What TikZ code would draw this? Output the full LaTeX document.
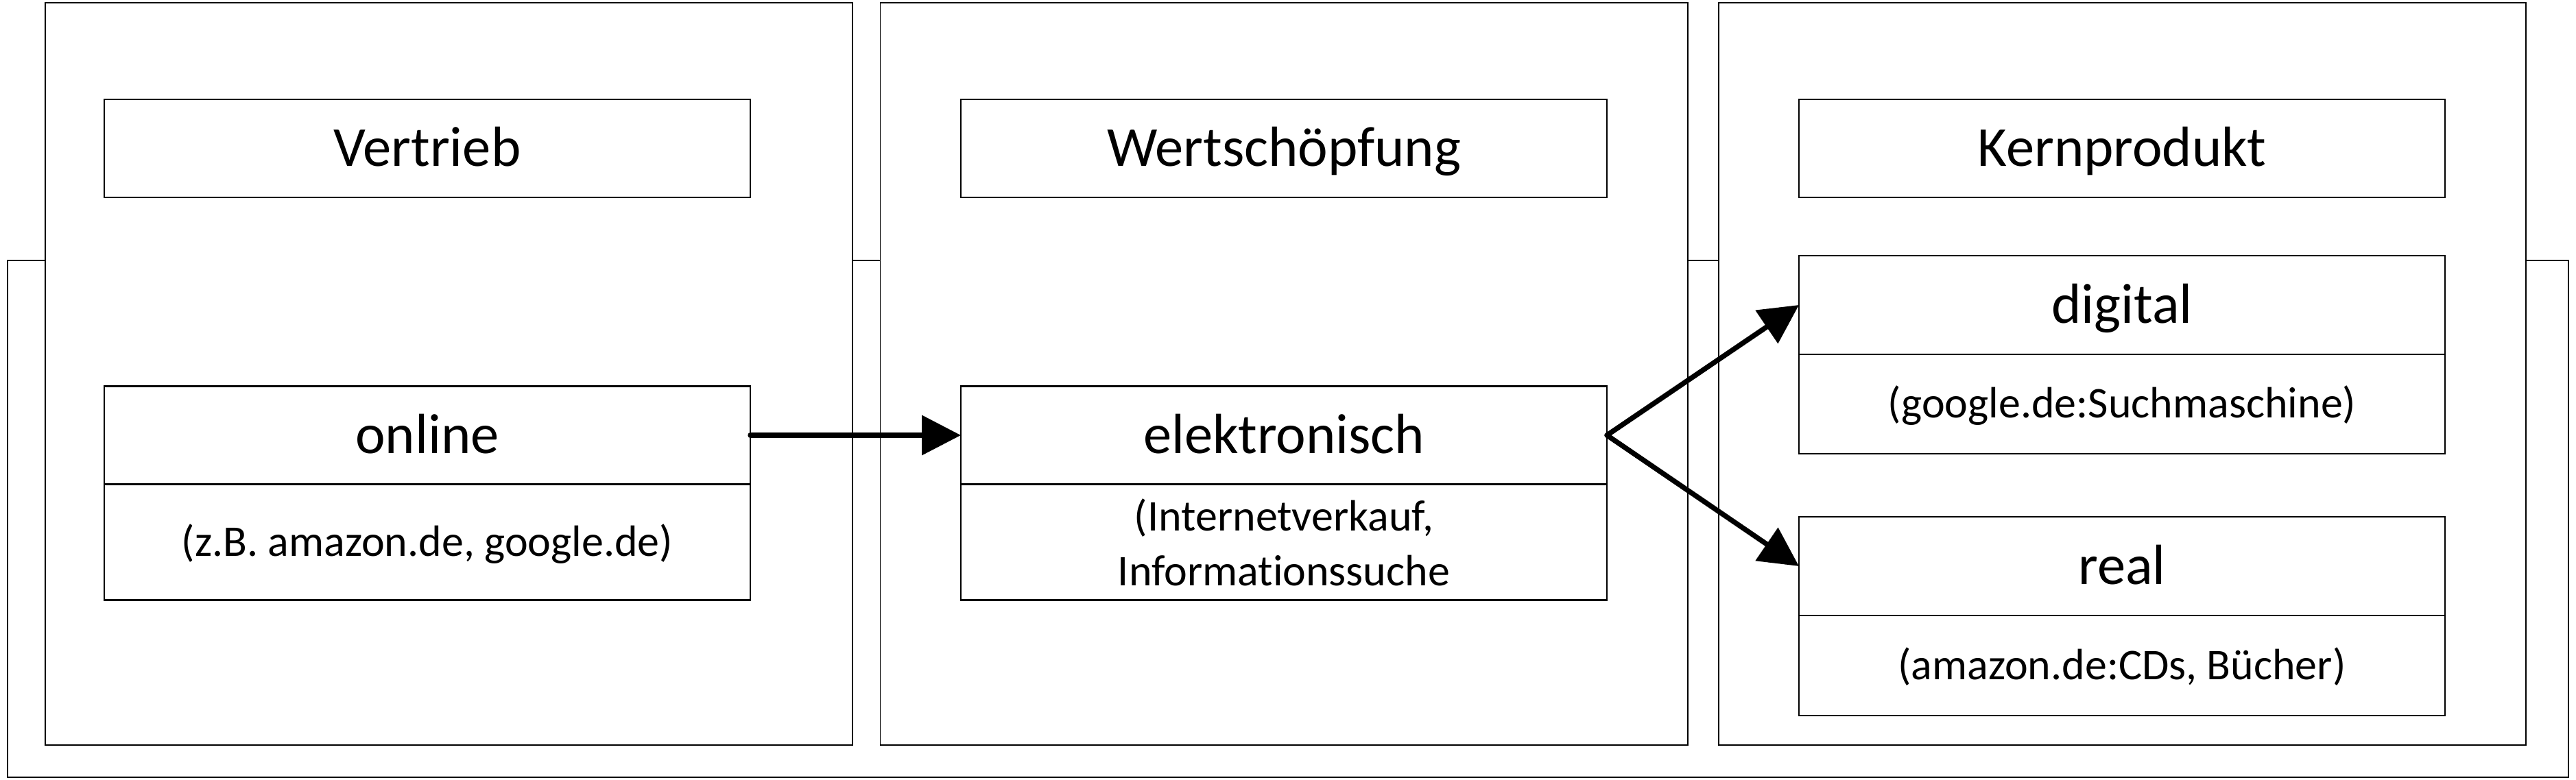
\documentclass[tikz,border=0pt]{standalone}
\usepackage{fontspec}
\setmainfont{Carlito}[Ligatures=NoCommon]
\usetikzlibrary{arrows.meta,positioning}
\begin{document}
\begin{tikzpicture}[every node/.style={inner sep=0pt,outer sep=0pt},
  col/.style={draw,line width=0.55pt,fill=white,minimum width=11.77cm,minimum height=10.83cm},
  cell/.style={draw,line width=0.6pt,fill=white,minimum width=9.42cm,minimum height=1.43cm,font=\fontsize{23.5}{28}\selectfont,text height=15pt,text depth=0pt},
  note/.style={draw,line width=0.6pt,fill=white,minimum width=9.42cm,font=\fontsize{18.2}{22.7}\selectfont,align=center},
  link/.style={line width=2.1pt,line cap=round,line join=round,-{Triangle[length=0.57cm,width=0.57cm]}}]
\useasboundingbox (0,0) rectangle (37.56,-11.38);
\node[draw,line width=0.55pt,minimum width=37.34cm,minimum height=7.54cm] (frame) at (18.78,-7.57) {};
\node[col] (vcol) at (6.545,-5.455) {};
\node[col] (wcol) at (18.72,-5.455) {};
\node[col] (kcol) at (30.94,-5.455) {};
\node[cell] (vtitle) at (6.23,-2.165) {Vertrieb};
\node[cell] (wtitle) at (18.72,-2.165) {Wertschöpfung};
\node[cell] (ktitle) at (30.94,-2.165) {Kernprodukt};
\node[cell] (online) at (6.23,-6.35) {online};
\node[note,minimum height=1.69cm,text height=11.6pt,text depth=0pt,below=0pt of online] (onlinenote) {(z.B. amazon.de, google.de)};
\node[cell] (elek) at (18.72,-6.35) {elektronisch};
\node[note,minimum height=1.69cm,below=0pt of elek] (eleknote) {(Internetverkauf,\\Informationssuche};
\node[cell,minimum height=1.44cm] (digital) at (30.94,-4.45) {digital};
\node[note,minimum height=1.45cm,text height=11.6pt,text depth=0pt,below=0pt of digital] (digitalnote) {(google.de:Suchmaschine)};
\node[cell,minimum height=1.44cm] (real) at (30.94,-8.26) {real};
\node[note,minimum height=1.46cm,text height=11.6pt,text depth=0pt,below=0pt of real] (realnote) {(amazon.de:CDs, Bücher)};
\draw[link] (online.east) -- (elek.west);
\draw[link] (elek.east) -- (digital.west);
\draw[link] (elek.east) -- (real.west);
\end{tikzpicture}
\end{document}
